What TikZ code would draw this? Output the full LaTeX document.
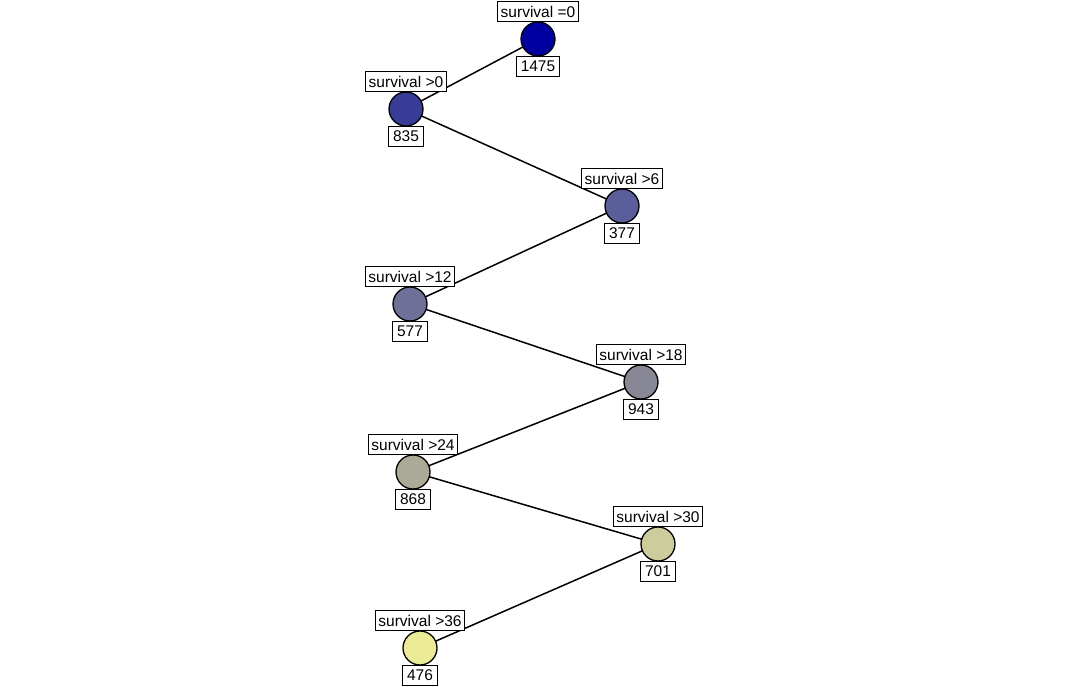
\documentclass[tikz,border=0pt]{standalone}
\usepackage{fontspec}
\setmainfont{Liberation Sans}
\usepackage{tikz}
\usetikzlibrary{backgrounds}

\definecolor{grpA}{RGB}{0,0,160}
\definecolor{grpB}{RGB}{55,60,150}
\definecolor{grpC}{RGB}{90,95,155}
\definecolor{grpD}{RGB}{110,112,152}
\definecolor{grpE}{RGB}{135,135,150}
\definecolor{grpF}{RGB}{170,170,150}
\definecolor{grpG}{RGB}{205,205,155}
\definecolor{grpH}{RGB}{235,235,150}

\begin{document}
\begin{tikzpicture}[x=1pt,y=-1pt,
  grp/.style={circle,draw,line width=1.3pt,minimum size=34pt,inner sep=0pt},
  lbl/.style={draw,fill=white,line width=1.3pt,inner xsep=3pt,inner ysep=0pt,minimum height=20pt,font=\fontsize{15.5}{18}\selectfont},
  cnt/.style={lbl,inner xsep=4.5pt},
  link/.style={line width=1.5pt}]
\useasboundingbox (0,0) rectangle (1069,687);
% groups
\node (g0) at (538,39)[grp,fill=grpA]{};
\node (g1) at (406,109)[grp,fill=grpB]{};
\node (g2) at (622,206)[grp,fill=grpC]{};
\node (g3) at (410,304)[grp,fill=grpD]{};
\node (g4) at (641,382)[grp,fill=grpE]{};
\node (g5) at (413,472)[grp,fill=grpF]{};
\node (g6) at (658,544)[grp,fill=grpG]{};
\node (g7) at (420,648)[grp,fill=grpH]{};
% labels
\node (l0) at ([yshift=-1pt]g0.north)[lbl,anchor=south]{survival =0};
\node (l1) at ([yshift=-1pt]g1.north)[lbl,anchor=south]{survival >0};
\node (l2) at ([yshift=-1pt]g2.north)[lbl,anchor=south]{survival >6};
\node (l3) at ([yshift=-1pt]g3.north)[lbl,anchor=south]{survival >12};
\node (l4) at ([yshift=-1pt]g4.north)[lbl,anchor=south]{survival >18};
\node (l5) at ([yshift=-1pt]g5.north)[lbl,anchor=south]{survival >24};
\node (l6) at ([yshift=-1pt]g6.north)[lbl,anchor=south]{survival >30};
\node (l7) at ([yshift=-1pt]g7.north)[lbl,anchor=south]{survival >36};
% counts
\node (n0) at ([yshift=1pt]g0.south)[cnt,anchor=north]{1475};
\node (n1) at ([yshift=1pt]g1.south)[cnt,anchor=north]{835};
\node (n2) at ([yshift=1pt]g2.south)[cnt,anchor=north]{377};
\node (n3) at ([yshift=1pt]g3.south)[cnt,anchor=north]{577};
\node (n4) at ([yshift=1pt]g4.south)[cnt,anchor=north]{943};
\node (n5) at ([yshift=1pt]g5.south)[cnt,anchor=north]{868};
\node (n6) at ([yshift=1pt]g6.south)[cnt,anchor=north]{701};
\node (n7) at ([yshift=1pt]g7.south)[cnt,anchor=north]{476};
% links
\begin{pgfonlayer}{background}
  \draw [link] (g0.center) -- (g1.center) -- (g2.center) -- (g3.center)
    -- (g4.center) -- (g5.center) -- (g6.center) -- (g7.center);
\end{pgfonlayer}
\end{tikzpicture}
\end{document}
